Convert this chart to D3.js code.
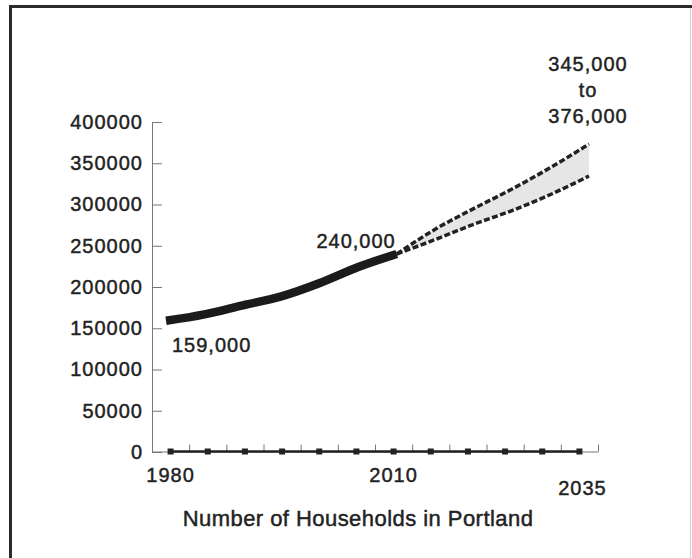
<!DOCTYPE html>
<html>
<head>
<meta charset="utf-8">
<script src="https://cdn.jsdelivr.net/npm/d3@7/dist/d3.min.js"></script>
<style>
  html, body { margin: 0; padding: 0; background: #fff; }
  svg { display: block; }
  text { font-family: "Liberation Sans", Arial, Helvetica, sans-serif; fill: #222; stroke: #222; stroke-width: 0.45px; }
</style>
</head>
<body>
<script>
// ---- data ----
const histYears  = [1980, 1985, 1990, 1995, 2000, 2005, 2010];
const histValues = [159000, 166800, 177800, 188600, 204800, 224200, 240000];

const projYears  = [2010, 2015, 2020, 2025, 2030, 2035];
const projHigh   = [240000, 270000, 295000, 318800, 344800, 373300];
const projLow    = [240000, 257500, 276000, 292700, 312100, 334500];

const markerYears  = [1980, 1985, 1990, 1995, 2000, 2005, 2010, 2015, 2020, 2025, 2030, 2035];
const markerValues = [0, 0, 0, 0, 0, 0, 0, 0, 0, 0, 0, 0];

const yTicks      = [0, 50000, 100000, 150000, 200000, 250000, 300000, 350000, 400000];
const xLabelYears = [1980, 2010, 2035];
const axisTickYears = [1982.5, 1987.5, 1992.5, 1997.5, 2002.5, 2007.5, 2012.5, 2017.5, 2022.5, 2027.5, 2032.5, 2037.5];

const startLabel = "159,000";
const midLabel   = "240,000";
const endLabels  = ["345,000", "to", "376,000"];
const title      = "Number of Households in Portland";

// ---- drawing ----
const W = 692, H = 558;
const svg = d3.select("body").append("svg").attr("width", W).attr("height", H);

// frame
svg.append("path").attr("d", "M10.5,558 L10.5,6.5 L692,6.5")
  .attr("fill", "none").attr("stroke", "#2a2a2a").attr("stroke-width", 3);
svg.append("line").attr("x1", 690.5).attr("x2", 690.5).attr("y1", 8).attr("y2", 558)
  .attr("stroke", "#d0d0d0").attr("stroke-width", 1);

const y = d3.scaleLinear().domain([0, 400000]).range([452, 122]);
const xAxisScale = d3.scaleLinear().domain([1977.5, 2037.5]).range([152, 598]);
const xLine = d3.scaleLinear().domain([1980, 2035]).range([166, 589]);

// y axis
const yAxis = svg.append("g").attr("transform", "translate(152,0)")
  .call(d3.axisLeft(y).tickValues(yTicks).tickFormat(d => String(d))
        .tickSizeInner(-10).tickSizeOuter(0).tickPadding(9));
yAxis.select(".domain").attr("stroke", "#777");
yAxis.selectAll(".tick line").attr("stroke", "#777");
yAxis.selectAll(".tick text").attr("font-size", 20).attr("letter-spacing", "1px")
  .attr("fill", "#222").style("font-family", "'Liberation Sans', Arial, sans-serif");

// x axis
const xAxis = svg.append("g").attr("transform", "translate(0,451.5)")
  .call(d3.axisBottom(xAxisScale).tickValues(axisTickYears).tickFormat("")
        .tickSizeInner(-7).tickSizeOuter(0));
xAxis.select(".domain").attr("stroke", "#777");
xAxis.selectAll(".tick line").attr("stroke", "#777");

// zero series with square markers
svg.append("path")
  .datum(markerYears.map((d, i) => [d, markerValues[i]]))
  .attr("fill", "none").attr("stroke", "#222").attr("stroke-width", 2.5)
  .attr("d", d3.line().x(d => xAxisScale(d[0])).y(d => y(d[1]) - 0.5));
svg.selectAll("rect.marker")
  .data(markerYears.map((d, i) => [d, markerValues[i]]))
  .join("rect").attr("class", "marker")
  .attr("x", d => xAxisScale(d[0]) - 3).attr("y", d => y(d[1]) - 3.5)
  .attr("width", 6).attr("height", 6).attr("fill", "#222");

// x labels
svg.selectAll("text.xlab").data(xLabelYears).join("text").attr("class", "xlab")
  .attr("x", (d, i) => xAxisScale(d) + (i === xLabelYears.length - 1 ? 3 : 0))
  .attr("y", (d, i) => i === xLabelYears.length - 1 ? 495 : 481.5)
  .attr("text-anchor", "middle").attr("font-size", 20).attr("letter-spacing", "1px")
  .text(d => d);

// projection band
const band = projYears.map((d, i) => ({ year: d, hi: projHigh[i], lo: projLow[i] }));
svg.append("path").datum(band)
  .attr("fill", "#e6e6e6")
  .attr("d", d3.area().curve(d3.curveMonotoneX)
    .x(d => xLine(d.year)).y0(d => y(d.lo)).y1(d => y(d.hi)));

const dashLine = d3.line().curve(d3.curveMonotoneX).x(d => xLine(d[0])).y(d => y(d[1]));
[projHigh, projLow].forEach(vals => {
  svg.append("path").datum(projYears.map((d, i) => [d, vals[i]]))
    .attr("fill", "none").attr("stroke", "#222").attr("stroke-width", 3.5)
    .attr("stroke-dasharray", "6,2.5").attr("d", dashLine);
});

// historical thick line
svg.append("path").datum(histYears.map((d, i) => [d, histValues[i]]))
  .attr("fill", "none").attr("stroke", "#1b1b1b").attr("stroke-width", 8.5)
  .attr("d", d3.line().curve(d3.curveMonotoneX).x(d => xLine(d[0])).y(d => y(d[1])));

// annotations
svg.append("text").attr("x", xLine(histYears[0]) + 6).attr("y", y(histValues[0]) + 31)
  .attr("font-size", 20).attr("letter-spacing", "1px").text(startLabel);
svg.append("text").attr("x", xLine(2010) - 1).attr("y", y(histValues[histValues.length - 1]) - 6)
  .attr("text-anchor", "end").attr("font-size", 20).attr("letter-spacing", "1px").text(midLabel);
const topY = y(376000);
svg.selectAll("text.end").data(endLabels).join("text").attr("class", "end")
  .attr("x", xLine(2035) - 1)
  .attr("y", (d, i) => topY - 71 + i * 26.3)
  .attr("text-anchor", "middle").attr("font-size", 20).attr("letter-spacing", "1px")
  .text(d => d);

// title
svg.append("text").attr("x", 358).attr("y", 525.5).attr("text-anchor", "middle")
  .attr("font-size", 22).attr("letter-spacing", "0.45px").text(title);
</script>
</body>
</html>
